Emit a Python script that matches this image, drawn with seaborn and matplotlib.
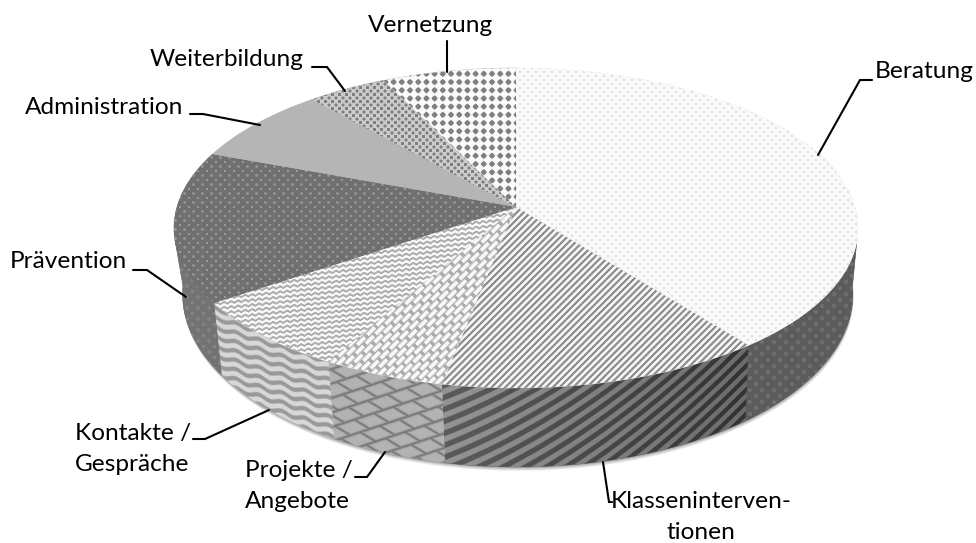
import numpy as np
import matplotlib
matplotlib.use('Agg')
import matplotlib.pyplot as plt
from matplotlib.transforms import Transform
import seaborn as sns

# Anteile in Prozent, im Uhrzeigersinn ab 12 Uhr
categories = ['Beratung', 'Klasseninterventionen', 'Projekte / Angebote', 'Kontakte / Gespräche',
              'Prävention', 'Administration', 'Weiterbildung', 'Vernetzung']
shares = [39.5, 13.6, 5.1, 7.3, 15.3, 7.8, 4.3, 7.2]
top_greys = ['#f2f2f2', '#c8c8c8', '#dcdcdc', '#dcdcdc', '#727272', '#b5b5b5', '#a0a0a0', '#c0c0c0']

W, H = 976, 543
CX, CY, B, A, K = 516, 207, 339, 157.2, 0.131

sns.set_theme(style='white')
plt.rcParams['font.family'] = ['Lato', 'DejaVu Sans']


class Persp(Transform):
    # Kreis -> schraeg von oben gesehene Scheibe
    input_dims = 2
    output_dims = 2

    def transform_non_affine(self, values):
        values = np.asarray(values, dtype=float)
        w = 1 + K * values[:, 1]
        return np.column_stack([CX + B * values[:, 0] / w, CY - A * values[:, 1] / w])


def lower(xy):
    # Unterkante der Seitenwand
    return np.column_stack([0.98 * xy[:, 0] + 12, 1.08 * xy[:, 1] + 48])


px, py = np.meshgrid(np.arange(W) + 0.5, np.arange(H) + 0.5)


def mix(t, fg, bg):
    return bg + (fg - bg) * np.clip(t, 0, 1)


def grid_dots(period, fg, bg, edge=0.0, sharp=2.5):
    t = (np.cos(2 * np.pi * px / period) + np.cos(2 * np.pi * py / period)) / 2 - edge
    return mix(t * sharp + 0.5, fg, bg)


def stag_dots(period, fg, bg, edge=0.2, sharp=3.0):
    a = (px + py) / period
    b = (px - py) / period
    t = (np.cos(2 * np.pi * a) + np.cos(2 * np.pi * b)) / 2 - edge
    return mix(t * sharp + 0.5, fg, bg)


def stripes(dx, slope, fg, bg):
    t = np.sin(2 * np.pi * (px + py / slope) / dx)
    return mix(t * 1.0 + 0.35, fg, bg)


def fan_stripes(yp, fg_l, bg_l, fg_r, bg_r):
    # Streifen werden nach rechts steiler
    xr = px - 440
    phase = (py + 0.38 * xr + 0.32 * xr ** 2 / 310) / yp
    t = np.clip(np.sin(2 * np.pi * phase) * 1.4 + 0.5, 0, 1)
    f = np.clip(xr / 310, 0, 1)
    return mix(t, fg_l + (fg_r - fg_l) * f, bg_l + (bg_r - bg_l) * f)


def zigzag(xp, yp, amp, tilt, fg, bg):
    tri = np.abs(((px / xp) % 1) - 0.5) * 2
    t = np.sin(2 * np.pi * (py - tilt * px + amp * tri) / yp)
    return mix(t * 1.0 + 0.4, fg, bg)


def wave(xp, yp, amp, tilt, fg, bg):
    t = np.sin(2 * np.pi * (py - tilt * px + amp * np.sin(2 * np.pi * px / xp)) / yp)
    return mix(t * 1.0 + 0.4, fg, bg)


def bricks(length, width, fg, bg):
    a = (px - py) / np.sqrt(2)
    b = (px + py) / np.sqrt(2)
    row = np.floor(b / width)
    fb = (b / width) % 1
    fa = ((a + row * length / 2) / length) % 1
    line = np.minimum(np.abs(fb - 0.5) * 2, 1)
    line = np.maximum(line ** 2, np.where(np.minimum(fa, 1 - fa) < 0.12, 1, 0))
    return mix(line * 1.1 - 0.1, fg, bg)


def shingles(rows, length, fg, bg):
    r = (py + 0.33 * px) / rows
    row = np.floor(r)
    d1 = np.minimum(r % 1, 1 - r % 1) * rows
    c = (px - py / 0.6) / length + row * 0.5
    d2 = np.minimum(c % 1, 1 - c % 1) * length * 0.6
    t = np.maximum(np.exp(-(d1 / 1.5) ** 2), np.exp(-(d2 / 1.5) ** 2))
    return mix(t, fg, bg)


top_tex = [
    stag_dots(8, 0.86, 0.975, 0.55),
    stripes(6.8, 1.0, 0.55, 0.96),
    bricks(14, 5.2, 0.68, 0.98),
    zigzag(7, 5, 2.0, -0.1, 0.68, 0.97),
    stag_dots(9, 0.6, 0.44, 0.65),
    np.full_like(px, 0.71),
    stag_dots(7, 0.5, 0.8, 0.2),
    grid_dots(8.2, 0.5, 0.98, 0.2),
]
side_tex = [
    stag_dots(12, 0.44, 0.36, 0.55),
    fan_stripes(12, 0.36, 0.58, 0.2, 0.42),
    shingles(14.5, 30, 0.47, 0.7),
    wave(23, 9.3, 1.5, 0.3, 0.6, 0.84),
    stag_dots(11, 0.52, 0.45, 0.55),
    np.full_like(px, 0.5),
    np.full_like(px, 0.5),
    np.full_like(px, 0.5),
]

leaders = [
    [(872, 80), (860, 80), (818, 155)],
    [(603, 462), (609, 502), (612, 502)],
    [(355, 477), (367, 477), (385, 452)],
    [(193, 439), (205, 439), (269, 410)],
    [(133, 270), (147, 270), (186, 297)],
    [(190, 114), (203, 114), (260, 125)],
    [(312, 67), (327, 67), (345, 91)],
    [(447, 41), (447, 72)],
]
label_spots = [
    (875, 72, 'Beratung', 'left'),
    (701, 517, 'Klasseninterven-\ntionen', 'center'),
    (245, 486, 'Projekte /\nAngebote', 'left'),
    (75, 449, 'Kontakte /\nGespräche', 'left'),
    (10, 262, 'Prävention', 'left'),
    (25, 107, 'Administration', 'left'),
    (150, 60, 'Weiterbildung', 'left'),
    (368, 26, 'Vernetzung', 'left'),
]

fig = plt.figure(figsize=(W / 100, H / 100), dpi=100, facecolor='white')
ax = fig.add_axes([0, 0, 1, 1])
wedges, _ = ax.pie(shares, startangle=90, counterclock=False, radius=1, colors=top_greys,
                   frame=False, normalize=True)

persp = Persp()
tex_kw = dict(extent=(0, W, H, 0), cmap='gray', vmin=0, vmax=1, aspect='auto', interpolation='bilinear')


def ring(t):
    return persp.transform(np.column_stack([np.cos(t), np.sin(t)]))


# weicher Schatten unter der Scheibe
ang = np.radians(np.linspace(-180, 0, 181))
rim = lower(ring(ang))
for off, al in zip([4.0, 3.0, 2.0, 1.0], [0.10, 0.14, 0.18, 0.25]):
    ax.fill(rim[:, 0] + off * 0.2, rim[:, 1] + off, color='0.35', alpha=al, lw=0, zorder=1)

# Seitenwaende, nur der sichtbare vordere Teil
for wedge, tex in zip(wedges, side_tex):
    t = np.radians(np.linspace(wedge.theta1, wedge.theta2, 200))
    t_up = t[np.sin(t) < -0.2]
    t_low = t[np.sin(t) < -0.08]
    if len(t_up) < 2:
        continue
    poly = np.vstack([ring(t_up), lower(ring(t_low))[::-1]])
    patch = ax.fill(poly[:, 0], poly[:, 1], color=str(float(tex.mean())), lw=0.4, zorder=2)[0]
    im = ax.imshow(tex, zorder=2.5, **tex_kw)
    im.set_clip_path(patch)

# Deckflaeche
for wedge, grey, tex in zip(wedges, top_greys, top_tex):
    wedge.set_transform(persp + ax.transData)
    wedge.set_zorder(3)
    wedge.set_edgecolor(grey)
    wedge.set_linewidth(0.5)
    im = ax.imshow(tex, zorder=3.5, **tex_kw)
    im.set_clip_path(wedge)

for pts, (tx, ty, text, ha) in zip(leaders, label_spots):
    xs, ys = zip(*pts)
    ax.plot(xs, ys, color='black', lw=1.5, zorder=5, solid_joinstyle='miter')
    ax.text(tx, ty, text, ha=ha, va='center', fontsize=17.6, color='black', linespacing=1.58, zorder=6)

ax.set_xlim(0, W)
ax.set_ylim(H, 0)
ax.set_aspect('auto')
ax.axis('off')
fig.savefig('out.png', dpi=100, facecolor='white')
